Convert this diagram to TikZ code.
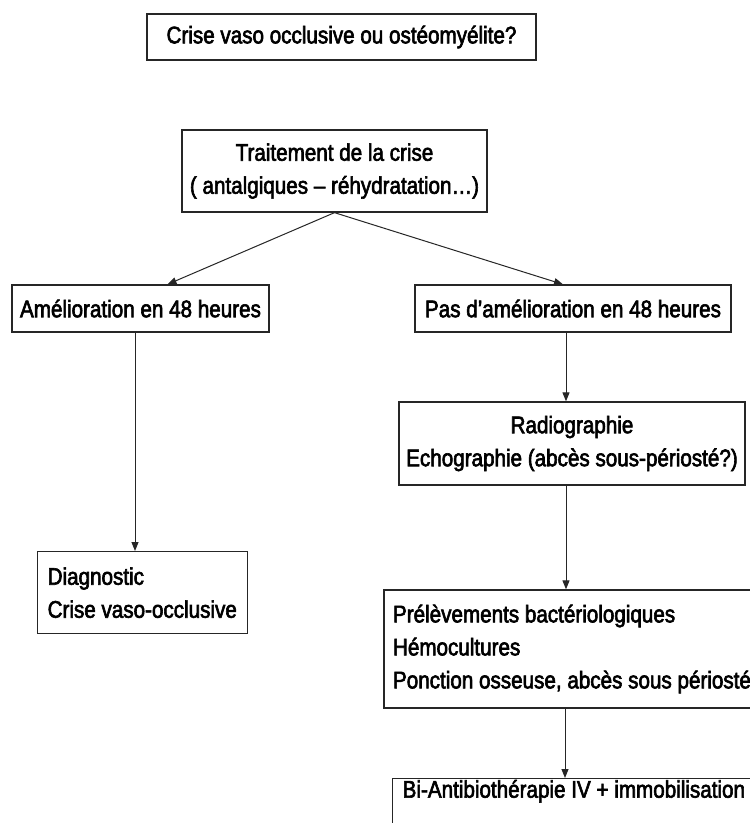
\documentclass[tikz,border=0pt]{standalone}
\usepackage{fontspec}
\setmainfont{Liberation Sans}[FakeStretch=0.86,FakeBold=2.5]
\usetikzlibrary{arrows.meta}
\begin{document}
\begin{tikzpicture}[x=1pt,y=-1pt,
  box/.style={draw=black!85, line width=1.3pt, inner sep=0pt, fill=white,
    font=\fontsize{24}{33}\selectfont},
  conn/.style={draw=black!85, line width=1pt},
  arr/.style={conn,-{Triangle[length=9pt,width=7pt]}}]
\useasboundingbox (0,0) rectangle (750,823);
\fill[white] (0,0) rectangle (750,823);

\node[box, minimum width=389pt, minimum height=46pt] (q) at (341.5,37)
  {Crise vaso occlusive ou ostéomyélite?};

\node[box, minimum width=305pt, minimum height=82pt, align=center] (t) at (334.5,171)
  {Traitement de la crise\\( antalgiques – réhydratation…)};

\node[box, minimum width=257pt, minimum height=47pt] (a) at (140.5,308.5)
  {Amélioration en 48 heures};

\node[box, minimum width=316pt, minimum height=47pt] (n) at (573,308.5)
  {Pas d'amélioration en 48 heures};

\node[box, anchor=north west, minimum width=208pt, minimum height=82pt, text width=190pt,
  inner xsep=10pt, inner ysep=9pt, align=flush left] (d) at (37,551)
  {Diagnostic\\Crise vaso-occlusive};

\node[box, minimum width=346pt, minimum height=83pt, align=center] (r) at (572,443.5)
  {Radiographie\\Echographie (abcès sous-périosté?)};

\node[box, minimum width=416pt, minimum height=118pt, text width=398pt, align=flush left] (p) at (592,649)
  {Prélèvements bactériologiques\\Hémocultures\\Ponction osseuse, abcès sous périosté};

\node[box, anchor=north west, text width=400pt, align=flush left, inner xsep=10pt, inner ysep=6pt,
  text height=13pt, text depth=60pt] (b) at (392,778)
  {Bi-Antibiothérapie IV + immobilisation};

\draw[arr] (t.south) -- ([xshift=27pt]a.north);
\draw[arr] (t.south) -- ([xshift=-10pt]n.north);
\draw[arr] ([xshift=-5.5pt]a.south) -- ([xshift=-5.5pt]a.south |- d.north);
\draw[arr] ([xshift=-7pt]n.south) -- ([xshift=-7pt]n.south |- r.north);
\draw[arr] ([xshift=-6pt]r.south) -- ([xshift=-6pt]r.south |- p.north);
\draw[arr] ([xshift=-27pt]p.south) -- ([xshift=-27pt]p.south |- b.north);
\end{tikzpicture}
\end{document}
